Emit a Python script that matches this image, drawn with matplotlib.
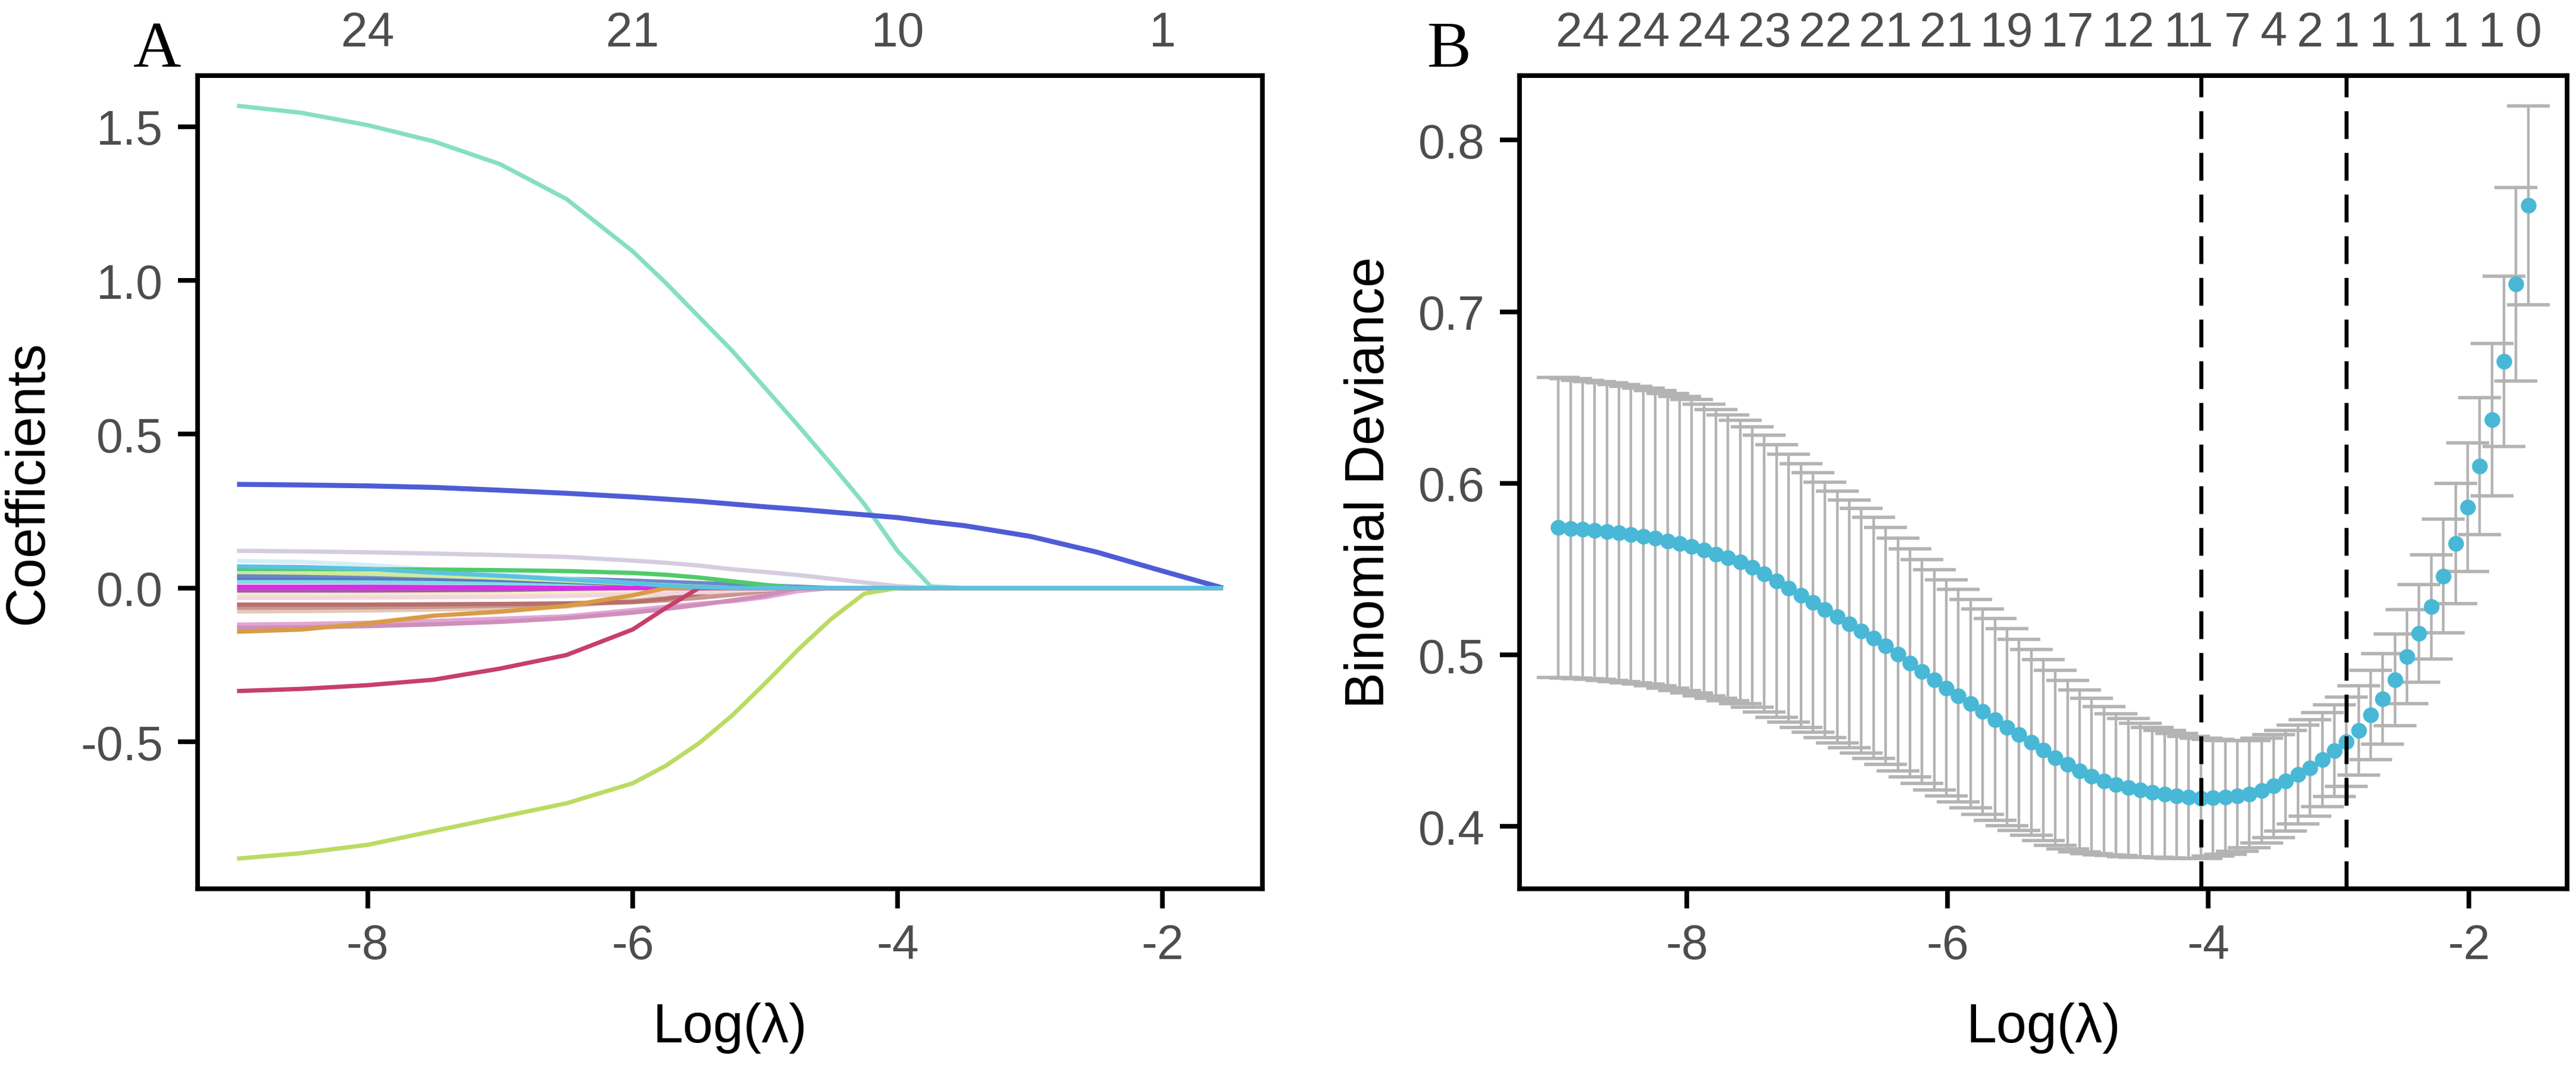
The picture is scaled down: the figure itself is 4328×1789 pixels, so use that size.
import numpy as np
import matplotlib
matplotlib.use("Agg")
import matplotlib.pyplot as plt

plt.rcParams['font.family'] = ['Liberation Sans', 'DejaVu Sans']

# ---------------- Panel A: lasso coefficient paths ----------------
path_x = [-8.985, -8.5, -8.0, -7.5, -7.0, -6.5, -6.0, -5.75, -5.5, -5.25, -5.0,
          -4.75, -4.5, -4.25, -4.0, -3.75, -3.5, -3.0, -2.5, -2.0, -1.545]

tan_path = [-0.076, -0.075, -0.073, -0.070, -0.066, -0.060, -0.040, -0.030, -0.020, -0.010, 0,
            0, 0, 0, 0, 0, 0, 0, 0, 0, 0]
rose_path = [-0.064, -0.064, -0.063, -0.061, -0.058, -0.054, -0.046, -0.040, -0.032, -0.022, -0.011,
             0, 0, 0, 0, 0, 0, 0, 0, 0, 0]
brown_path = [-0.054, -0.054, -0.054, -0.053, -0.052, -0.050, -0.045, -0.035, -0.018, 0, 0,
              0, 0, 0, 0, 0, 0, 0, 0, 0, 0]
cream_path = [-0.022, -0.022, -0.021, -0.021, -0.020, -0.018, -0.015, -0.013, -0.010, -0.007, -0.004,
              0, 0, 0, 0, 0, 0, 0, 0, 0, 0]
lightpink_path = [-0.032, -0.032, -0.031, -0.030, -0.029, -0.026, -0.021, -0.018, -0.014, -0.009, -0.004,
                  0, 0, 0, 0, 0, 0, 0, 0, 0, 0]
lightcyan_path = [0.020, 0.020, 0.019, 0.018, 0.016, 0.012, 0.006, 0.003, 0, 0, 0,
                  0, 0, 0, 0, 0, 0, 0, 0, 0, 0]
bluegray_path = [0.033, 0.033, 0.032, 0.030, 0.026, 0.020, 0.012, 0.007, 0.003, 0, 0,
                 0, 0, 0, 0, 0, 0, 0, 0, 0, 0]
steel_path = [0.041, 0.041, 0.040, 0.038, 0.035, 0.030, 0.024, 0.020, 0.016, 0.012, 0.008,
              0.004, 0, 0, 0, 0, 0, 0, 0, 0, 0]
lightyg_path = [0.052, 0.050, 0.046, 0.040, 0.033, 0.024, 0.014, 0.009, 0.004, 0, 0,
                0, 0, 0, 0, 0, 0, 0, 0, 0, 0]
palecyan_path = [0.088, 0.085, 0.075, 0.060, 0.045, 0.030, 0.015, 0.008, 0, 0, 0,
                 0, 0, 0, 0, 0, 0, 0, 0, 0, 0]
green_path = [0.062, 0.062, 0.061, 0.060, 0.058, 0.055, 0.049, 0.043, 0.034, 0.022, 0.010,
              0, 0, 0, 0, 0, 0, 0, 0, 0, 0]
violet_path = [-0.008, -0.008, -0.008, -0.007, -0.006, -0.003, 0, 0, 0, 0, 0,
               0, 0, 0, 0, 0, 0, 0, 0, 0, 0]
magenta_path = [0.004, 0.004, 0.004, 0.003, 0.002, 0, 0, 0, 0, 0, 0,
                0, 0, 0, 0, 0, 0, 0, 0, 0, 0]
pink_path = [-0.119, -0.117, -0.113, -0.107, -0.100, -0.092, -0.072, -0.061, -0.051, -0.043, -0.030,
             -0.010, 0, 0, 0, 0, 0, 0, 0, 0, 0]
mauve_path = [-0.129, -0.128, -0.124, -0.118, -0.110, -0.098, -0.080, -0.068, -0.055, -0.040, -0.025,
              0, 0, 0, 0, 0, 0, 0, 0, 0, 0]
orange_path = [-0.142, -0.135, -0.115, -0.090, -0.077, -0.058, -0.024, 0, 0, 0, 0,
               0, 0, 0, 0, 0, 0, 0, 0, 0, 0]
lavender_path = [0.121, 0.119, 0.116, 0.112, 0.107, 0.101, 0.089, 0.082, 0.073, 0.061, 0.052,
                 0.042, 0.030, 0.018, 0.006, 0, 0, 0, 0, 0, 0]
crimson_path = [-0.335, -0.328, -0.316, -0.298, -0.262, -0.218, -0.135, -0.065, 0, 0, 0,
                0, 0, 0, 0, 0, 0, 0, 0, 0, 0]
yellowgreen_path = [-0.880, -0.862, -0.835, -0.790, -0.745, -0.700, -0.635, -0.578, -0.505, -0.415, -0.310,
                    -0.200, -0.100, -0.018, 0, 0, 0, 0, 0, 0, 0]
aqua_path = [1.568, 1.545, 1.505, 1.452, 1.378, 1.265, 1.095, 0.992, 0.882, 0.772, 0.650,
             0.528, 0.402, 0.272, 0.120, 0.005, 0, 0, 0, 0, 0]
blue_path = [0.337, 0.335, 0.332, 0.327, 0.318, 0.308, 0.296, 0.289, 0.282, 0.273, 0.264,
             0.256, 0.247, 0.238, 0.229, 0.215, 0.203, 0.168, 0.117, 0.055, 0]
cyan_path = [0.070, 0.068, 0.062, 0.050, 0.040, 0.028, 0.015, 0.008, 0.003, 0, 0,
             0, 0, 0, 0, 0, 0, 0, 0, 0, 0]

# drawing order matters: later lines sit on top (cyan ends up covering the zero line)
paths_a = [
    (tan_path, "#E3C9B8"), (rose_path, "#CC9590"), (brown_path, "#B7706D"),
    (cream_path, "#F4ECC4"), (lightpink_path, "#F1D6DE"), (lightcyan_path, "#7FDCE6"),
    (bluegray_path, "#5B79BF"), (steel_path, "#6C87CC"), (lightyg_path, "#CFEA9A"),
    (palecyan_path, "#D4EEF7"), (green_path, "#4FCB6A"), (violet_path, "#A955B5"),
    (magenta_path, "#DD2BE6"), (pink_path, "#E2A5D6"), (mauve_path, "#CE8FBB"),
    (orange_path, "#D99B45"), (lavender_path, "#D6CCE0"), (crimson_path, "#C73F6B"),
    (yellowgreen_path, "#BCDB63"), (aqua_path, "#86DFC3"), (blue_path, "#4E5CD6"),
    (cyan_path, "#5BC2E0"),
]

top_a_pos = [-8, -6, -4, -2]
top_a_labels = ["24", "21", "10", "1"]

# ---------------- Panel B: cross-validated binomial deviance ----------------
log_lambda = [-1.545, -1.638, -1.731, -1.824, -1.917, -2.010, -2.103, -2.196, -2.289, -2.382,
              -2.475, -2.568, -2.661, -2.754, -2.847, -2.940, -3.033, -3.126, -3.219, -3.312,
              -3.405, -3.498, -3.591, -3.684, -3.777, -3.870, -3.963, -4.056, -4.149, -4.242,
              -4.335, -4.428, -4.521, -4.614, -4.707, -4.800, -4.893, -4.986, -5.079, -5.172,
              -5.265, -5.358, -5.451, -5.544, -5.637, -5.730, -5.823, -5.916, -6.009, -6.102,
              -6.195, -6.288, -6.381, -6.474, -6.567, -6.660, -6.753, -6.846, -6.939, -7.032,
              -7.125, -7.218, -7.311, -7.404, -7.497, -7.590, -7.683, -7.776, -7.869, -7.962,
              -8.055, -8.148, -8.241, -8.334, -8.427, -8.520, -8.613, -8.706, -8.799, -8.892,
              -8.985]
cvm = [0.762, 0.716, 0.671, 0.637, 0.610, 0.586, 0.565, 0.546, 0.528, 0.5125,
       0.499, 0.4855, 0.4745, 0.465, 0.456, 0.4495, 0.4442, 0.4390, 0.4340, 0.4304,
       0.4267, 0.4236, 0.4210, 0.4189, 0.4178, 0.4170, 0.4168, 0.4166, 0.4170, 0.4178,
       0.4188, 0.4199, 0.4212, 0.4227, 0.4244, 0.4267, 0.4294, 0.4325, 0.4362, 0.4402,
       0.4446, 0.4490, 0.4535, 0.4579, 0.4624, 0.4670, 0.4716, 0.4762, 0.4808, 0.4855,
       0.4904, 0.4953, 0.5003, 0.5052, 0.5099, 0.5140, 0.5181, 0.5222, 0.5263, 0.5305,
       0.5347, 0.5389, 0.5431, 0.5473, 0.5512, 0.5541, 0.5565, 0.5588, 0.5611, 0.5632,
       0.5648, 0.5664, 0.5680, 0.5692, 0.5701, 0.5711, 0.5719, 0.5725, 0.5731, 0.5737,
       0.5743]
cvsd = [0.058, 0.0565, 0.0495, 0.0445, 0.040, 0.0375, 0.035, 0.033, 0.0305, 0.0285,
        0.0275, 0.0268, 0.0263, 0.026, 0.026, 0.026, 0.0267, 0.0274, 0.0281, 0.0288,
        0.0294, 0.030, 0.0306, 0.0313, 0.0322, 0.0331, 0.0341, 0.035, 0.0357, 0.0364,
        0.0371, 0.0379, 0.0390, 0.0401, 0.0413, 0.0433, 0.0453, 0.0472, 0.0491, 0.0510,
        0.0526, 0.0541, 0.0557, 0.0573, 0.0587, 0.0598, 0.0608, 0.0619, 0.0630, 0.0641,
        0.0653, 0.0665, 0.0678, 0.0690, 0.0702, 0.0713, 0.0723, 0.0734, 0.0744, 0.0756,
        0.0768, 0.0781, 0.0794, 0.0806, 0.0817, 0.0825, 0.0833, 0.0841, 0.0849, 0.0855,
        0.0857, 0.0858, 0.0860, 0.0862, 0.0863, 0.0865, 0.0867, 0.0868, 0.0870, 0.0872,
        0.0873]
log_lambda_min = -4.056
log_lambda_1se = -2.940

nz_idx = [78, 73, 68, 63, 58, 53, 48, 43, 38, 33, 28, 24, 21, 18, 15, 12, 9, 6, 3, 0]
nz_labels = ["24", "24", "24", "23", "22", "21", "21", "19", "17", "12",
             "11", "7", "4", "2", "1", "1", "1", "1", "1", "0"]

x_ticks = [-8, -6, -4, -2]
x_ticklabels = ["-8", "-6", "-4", "-2"]
a_yticks = [-0.5, 0.0, 0.5, 1.0, 1.5]
a_yticklabels = ["-0.5", "0.0", "0.5", "1.0", "1.5"]
b_yticks = [0.4, 0.5, 0.6, 0.7, 0.8]
b_yticklabels = ["0.4", "0.5", "0.6", "0.7", "0.8"]

TICK_GRAY = "#4D4D4D"
W, H = 4328, 1790


def r_range(lo, hi):
    # R's default 4% axis extension
    pad = (hi - lo) * 0.04
    return lo - pad, hi + pad


def style_axes(ax):
    for sp in ax.spines.values():
        sp.set_linewidth(2.8)
        sp.set_color("black")
    ax.tick_params(axis="both", length=12, width=2.8, direction="out",
                   labelsize=29, labelcolor=TICK_GRAY, pad=9)
    ax.set_xticks(x_ticks)
    ax.set_xticklabels(x_ticklabels)


def top_labels(ax, pos, labels):
    sec = ax.secondary_xaxis("top")
    sec.set_xticks(pos)
    sec.set_xticklabels(labels)
    sec.tick_params(length=0, pad=12, labelsize=29, labelcolor=TICK_GRAY)
    sec.spines["top"].set_visible(False)


fig = plt.figure(figsize=(W / 200, H / 200), dpi=200)
ax_a = fig.add_axes([332 / W, 1 - 1494 / H, (2121 - 332) / W, (1494 - 128) / H])
ax_b = fig.add_axes([2553 / W, 1 - 1494 / H, (4313 - 2553) / W, (1494 - 128) / H])

# ---- A ----
for vals, col in paths_a:
    lw = 3.0 if col == "#4E5CD6" else 2.6
    ax_a.plot(path_x, vals, color=col, lw=lw, solid_capstyle="butt",
              solid_joinstyle="round")

all_vals = np.concatenate([np.asarray(v) for v, _ in paths_a])
ax_a.set_xlim(*r_range(min(path_x), max(path_x)))
ax_a.set_ylim(*r_range(all_vals.min(), all_vals.max()))
style_axes(ax_a)
ax_a.set_yticks(a_yticks)
ax_a.set_yticklabels(a_yticklabels)
ax_a.set_xlabel("Log(λ)", fontsize=33, labelpad=20)
ax_a.set_ylabel("Coefficients", fontsize=33, labelpad=16)
top_labels(ax_a, top_a_pos, top_a_labels)

# ---- B ----
ll = np.asarray(log_lambda)
m = np.asarray(cvm)
s = np.asarray(cvsd)
ax_b.errorbar(ll, m, yerr=s, fmt="none", ecolor="#B3B3B3", elinewidth=1.6,
              capsize=13, capthick=2.0, zorder=2)
ax_b.plot(ll, m, "o", ms=9.5, color="#48B8D6", mec="none", zorder=3)
for v in (log_lambda_min, log_lambda_1se):
    ln = ax_b.axvline(v, color="black", lw=2.4, zorder=4)
    ln.set_dashes([7, 3.5])

ax_b.set_xlim(*r_range(ll.min(), ll.max()))
ax_b.set_ylim(*r_range((m - s).min(), (m + s).max()))
style_axes(ax_b)
ax_b.set_yticks(b_yticks)
ax_b.set_yticklabels(b_yticklabels)
ax_b.set_xlabel("Log(λ)", fontsize=33, labelpad=20)
ax_b.set_ylabel("Binomial Deviance", fontsize=33, labelpad=14)
top_labels(ax_b, [log_lambda[i] for i in nz_idx], nz_labels)

# panel letters
fig.text(264 / W, 1 - 112 / H, "A", ha="center", va="baseline",
         fontsize=40, family="Liberation Serif")
fig.text(2435 / W, 1 - 112 / H, "B", ha="center", va="baseline",
         fontsize=40, family="Liberation Serif")

fig.savefig("out.png", dpi=200, facecolor="white")
